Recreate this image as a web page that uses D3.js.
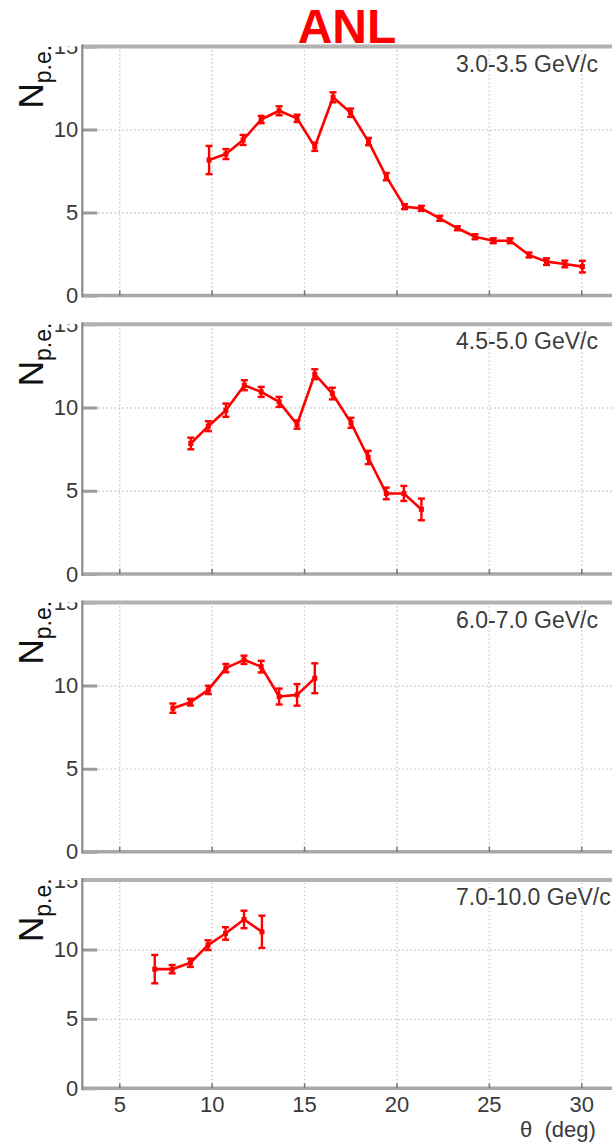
<!DOCTYPE html>
<html><head><meta charset="utf-8">
<script src="https://cdn.jsdelivr.net/npm/d3@7"></script>
<style>
html,body{margin:0;padding:0;background:#fff;}
svg{display:block;}
</style>
</head><body>
<script>
// ---- data ----
const title = "ANL";
const panelLabels = ["3.0-3.5 GeV/c", "4.5-5.0 GeV/c", "6.0-7.0 GeV/c", "7.0-10.0 GeV/c"];
const xTicks = [5, 10, 15, 20, 25, 30];
const yTicks = [0, 5, 10, 15];
const yGrid = [5, 10];

const theta1 = [9.86,10.77,11.70,12.68,13.65,14.62,15.58,16.57,17.52,18.49,19.45,20.44,21.35,22.34,23.30,24.25,25.24,26.15,27.17,28.12,29.11,30.06];
const npe1   = [8.16,8.52,9.37,10.6,11.13,10.67,8.96,11.94,11.01,9.27,7.16,5.35,5.25,4.65,4.05,3.54,3.3,3.3,2.44,2.04,1.9,1.74];
const err1   = [0.85,0.3,0.3,0.22,0.27,0.22,0.25,0.3,0.25,0.22,0.22,0.15,0.15,0.15,0.12,0.15,0.15,0.15,0.15,0.2,0.2,0.35];

const theta2 = [8.87,9.82,10.77,11.77,12.68,13.65,14.62,15.58,16.53,17.54,18.47,19.45,20.40,21.35];
const npe2   = [7.84,8.88,9.84,11.34,10.94,10.34,8.98,12.0,10.84,9.08,7.0,4.84,4.84,3.88];
const err2   = [0.35,0.3,0.4,0.3,0.3,0.3,0.25,0.3,0.35,0.3,0.4,0.35,0.45,0.65];

const theta3 = [7.90,8.85,9.82,10.77,11.75,12.68,13.65,14.62,15.58];
const npe3   = [8.64,9.0,9.74,11.05,11.55,11.14,9.34,9.44,10.44];
const err3   = [0.28,0.2,0.25,0.25,0.25,0.35,0.48,0.65,0.9];

const theta4 = [6.92,7.86,8.85,9.80,10.75,11.75,12.72];
const npe4   = [8.58,8.58,9.04,10.31,11.15,12.16,11.27];
const err4   = [1.02,0.3,0.3,0.35,0.45,0.63,1.16];

const series = [
  {theta: theta1, npe: npe1, err: err1},
  {theta: theta2, npe: npe2, err: err2},
  {theta: theta3, npe: npe3, err: err3},
  {theta: theta4, npe: npe4, err: err4}
];

// ---- layout ----
const W = 612, H = 1142;
const frames = [
  {top: 46.5, bottom: 295.5},
  {top: 324.3, bottom: 574},
  {top: 602.5, bottom: 851.7},
  {top: 880, bottom: 1088.3}
];
const left = 82.3, right = 636.7;
const RED = "#ff0000";
const FONT = "Liberation Sans, Arial, sans-serif";

const svg = d3.select("body").append("svg").attr("width", W).attr("height", H);
svg.append("rect").attr("width", W).attr("height", H).attr("fill", "#fff");

const x = d3.scaleLinear().domain([3, 33]).range([left, right]);

// title
svg.append("text").attr("x", 347).attr("y", 43)
  .attr("text-anchor", "middle")
  .attr("font-family", FONT)
  .attr("font-weight", "bold").attr("font-size", 48)
  .attr("fill", RED).text(title);

const defs = svg.append("defs");

frames.forEach((f, i) => {
  const y = d3.scaleLinear().domain([0, 15]).range([f.bottom, f.top]);
  const g = svg.append("g");
  const cid = "clip" + i;
  defs.append("clipPath").attr("id", cid).append("rect")
    .attr("x", 0).attr("y", f.top).attr("width", W).attr("height", f.bottom - f.top + 60);

  // vertical grid
  const gx = g.append("g").attr("transform", `translate(0,${f.bottom})`)
    .call(d3.axisBottom(x).tickValues(xTicks).tickSize(-(f.bottom - f.top)).tickFormat(""));
  gx.select(".domain").remove();
  gx.selectAll("line").attr("stroke", "#c9c9c9").attr("stroke-width", 1.4).attr("stroke-dasharray", "1.5,2.5");

  // horizontal grid
  const gy = g.append("g").attr("transform", `translate(${left},0)`)
    .call(d3.axisLeft(y).tickValues(yGrid).tickSize(-(right - left)).tickFormat(""));
  gy.select(".domain").remove();
  gy.selectAll("line").attr("stroke", "#c9c9c9").attr("stroke-width", 1.4).attr("stroke-dasharray", "1.5,2.5");

  // clipped (pad) group for y labels/title: untransformed so clip is in page coords
  const pad = g.append("g").attr("clip-path", `url(#${cid})`);

  // y axis ticks + labels
  const ya = pad.append("g").attr("transform", `translate(${left},0)`)
    .call(d3.axisLeft(y).tickValues(yTicks).tickSize(-15).tickPadding(4));
  ya.select(".domain").remove();
  ya.selectAll("line").attr("stroke", "#9a9a9a").attr("stroke-width", 3);
  ya.selectAll("text").attr("font-size", 22).attr("fill", "#3a3a3a")
    .attr("font-family", FONT);

  // y title
  const yt = pad.append("text")
    .attr("transform", `translate(43,${f.top + 62}) rotate(-90)`)
    .attr("font-family", FONT).attr("fill", "#111");
  yt.append("tspan").attr("font-size", 35).text("N");
  yt.append("tspan").attr("font-size", 23).attr("dy", 7.5).text("p.e.");

  // frame
  g.append("line").attr("x1", left).attr("x2", right).attr("y1", f.top).attr("y2", f.top)
    .attr("stroke", "#b2b2b2").attr("stroke-width", 4);
  g.append("line").attr("x1", left).attr("x2", right).attr("y1", f.bottom).attr("y2", f.bottom)
    .attr("stroke", "#a8a8a8").attr("stroke-width", 3.5);
  g.append("line").attr("x1", left).attr("x2", left).attr("y1", f.top - 2).attr("y2", f.bottom + 1.75)
    .attr("stroke", "#8a8a8a").attr("stroke-width", 2.2);

  // x axis ticks (+ labels on last panel)
  const last = i === frames.length - 1;
  const xa = g.append("g").attr("transform", `translate(0,${f.bottom})`)
    .call(d3.axisBottom(x).tickValues(xTicks).tickSize(-5).tickPadding(8)
      .tickFormat(last ? d3.format("d") : ""));
  xa.select(".domain").remove();
  xa.selectAll("line").attr("stroke", "#777").attr("stroke-width", 1.5);
  xa.selectAll("text").attr("font-size", 22).attr("fill", "#3a3a3a")
    .attr("font-family", FONT);

  // panel label
  g.append("text").attr("x", 456).attr("y", f.top + 25)
    .attr("font-family", FONT)
    .attr("font-size", 23).attr("fill", "#3c3c3c").text(panelLabels[i]);

  // data
  const s = series[i];
  const pts = s.theta.map((t, k) => ({t, v: s.npe[k], e: s.err[k]}));
  const dg = g.append("g");
  dg.append("path").datum(pts)
    .attr("d", d3.line().x(d => x(d.t)).y(d => y(d.v)))
    .attr("fill", "none").attr("stroke", RED).attr("stroke-width", 2.6).attr("stroke-linejoin", "round");
  const eb = dg.selectAll("g.eb").data(pts).join("g").attr("class", "eb");
  eb.append("line").attr("x1", d => x(d.t)).attr("x2", d => x(d.t))
    .attr("y1", d => y(d.v - d.e)).attr("y2", d => y(d.v + d.e))
    .attr("stroke", RED).attr("stroke-width", 2.4);
  eb.append("line").attr("x1", d => x(d.t) - 3.5).attr("x2", d => x(d.t) + 3.5)
    .attr("y1", d => y(d.v - d.e)).attr("y2", d => y(d.v - d.e))
    .attr("stroke", RED).attr("stroke-width", 2.4);
  eb.append("line").attr("x1", d => x(d.t) - 3.5).attr("x2", d => x(d.t) + 3.5)
    .attr("y1", d => y(d.v + d.e)).attr("y2", d => y(d.v + d.e))
    .attr("stroke", RED).attr("stroke-width", 2.4);
  eb.append("rect").attr("x", d => x(d.t) - 2.5).attr("y", d => y(d.v) - 2.5)
    .attr("width", 5).attr("height", 5).attr("fill", RED);
});

// x title
svg.append("text").attr("x", 520).attr("y", 1137)
  .attr("font-family", FONT)
  .attr("font-size", 22).attr("fill", "#3a3a3a")
  .text("θ\u00a0\u00a0(deg)");
</script>
</body></html>
